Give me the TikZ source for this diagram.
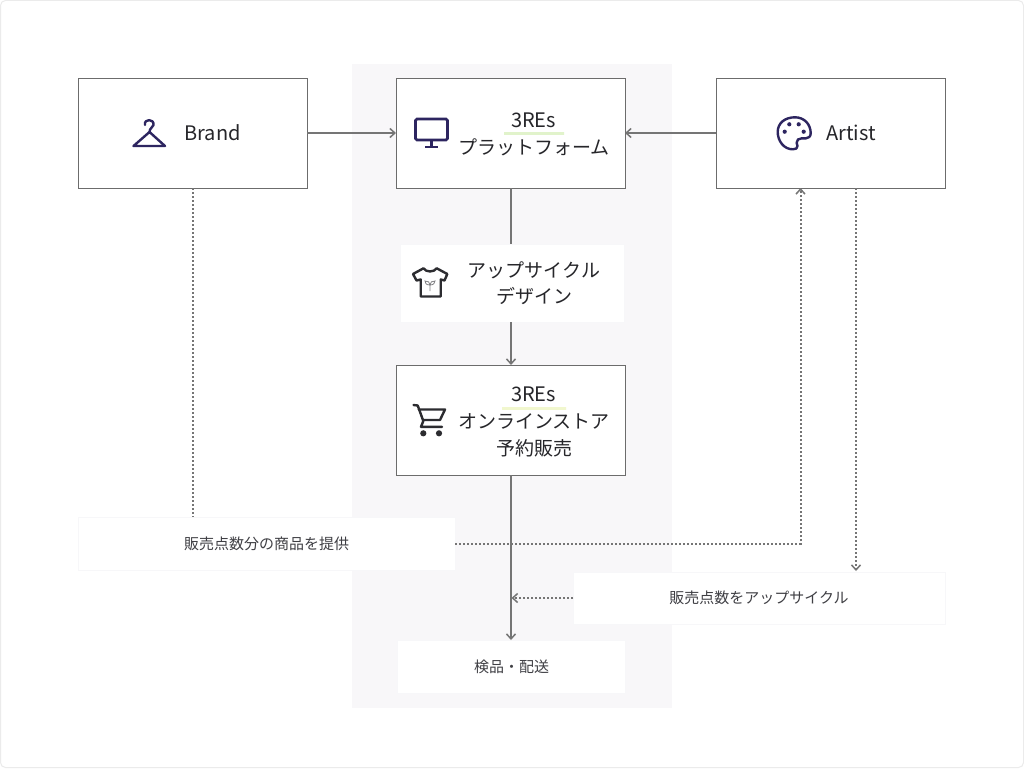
\documentclass[tikz,border=0pt]{standalone}
\usepackage{fontspec}
\setmainfont{Noto Sans CJK JP}
\usetikzlibrary{arrows.meta}
\definecolor{panelgray}{HTML}{F8F7F9}
\definecolor{boxline}{HTML}{6C6C6C}
\definecolor{connline}{HTML}{757575}
\definecolor{iconviolet}{HTML}{2D2560}
\definecolor{icondark}{HTML}{2C2C30}
\definecolor{textdark}{HTML}{26262A}
\definecolor{textsmall}{HTML}{3F3F44}
\definecolor{faintedge}{HTML}{F7F7F9}
\definecolor{limeA}{HTML}{B4E07C}
\definecolor{limeB}{HTML}{DCEB84}
\tikzset{
  x=1pt,y=-1pt,
  framebox/.style={draw=boxline,line width=1pt,fill=white,minimum width=229pt,minimum height=110pt,inner sep=0pt,outer sep=0pt},
  plainbox/.style={draw=faintedge,line width=.7pt,fill=white,inner sep=0pt,outer sep=0pt},
  big/.style={inner sep=0pt,text=textdark,font=\fontsize{19}{21}\selectfont},
  latin/.style={inner sep=0pt,text=textdark,font=\fontsize{20}{22}\selectfont},
  small/.style={inner sep=0pt,text=textsmall,font=\fontsize{15}{17}\selectfont},
  solidconn/.style={draw=connline,line width=2pt,-{Straight Barb[length=5pt,width=9pt,line width=1.5pt]}},
  plainconn/.style={draw=connline,line width=2pt},
  dotconn/.style={draw=connline,line width=2pt,dash pattern=on 2pt off 2pt},
  dotarrow/.style={dotconn,-{Straight Barb[length=5pt,width=9pt,line width=1.5pt]}},
  violeticon/.style={draw=iconviolet,line width=2.4pt,line join=round,line cap=round},
  darkicon/.style={draw=icondark,line width=2.4pt,line join=round,line cap=round}
}
\begin{document}
\begin{tikzpicture}
\useasboundingbox (0,0) rectangle (1024,768);
\fill[white] (0,0) rectangle (1024,768);
\draw[draw=black!8,line width=1pt,rounded corners=5pt] (.5,.5) rectangle (1023.5,767.5);
\fill[panelgray] (352,64) rectangle (672,708);

% boxes
\node[framebox] (brand) at (192.5,133) {};
\node[framebox] (platform) at (510.5,133) {};
\node[framebox] (artist) at (830.5,133) {};
\node[framebox] (store) at (510.5,420) {};
\node[plainbox,minimum width=224pt,minimum height=78pt] (design) at (512,283) {};
\node[plainbox,minimum width=377pt,minimum height=53pt] (supply) at (266.5,543.5) {};
\node[plainbox,minimum width=372pt,minimum height=52pt] (upcycle) at (759,598) {};
\node[plainbox,minimum width=228pt,minimum height=53pt] (deliver) at (511,666.5) {};

% free connector ends
\coordinate (artistIn) at (800.5,188);
\coordinate (artistOut) at (856,188);
\coordinate (upcycleIn) at (856,571);
\coordinate (corner) at (800.5,543.5);
\coordinate (returnEnd) at (511.5,598);
\coordinate (platformBottom) at (511,188);
\coordinate (designTop) at (511,244);
\coordinate (designBottom) at (511,322);
\coordinate (storeTop) at (511,365);
\coordinate (storeBottom) at (511,475);
\coordinate (deliverTop) at (511,640);

% connectors
\draw[solidconn] (brand.east) -- (platform.west);
\draw[solidconn] (artist.west) -- (platform.east);
\draw[plainconn] (platformBottom) -- (designTop);
\draw[solidconn] (designBottom) -- (storeTop);
\draw[dotconn] (brand.south) -- (supply.north -| brand.south);
\draw[dotarrow] (supply.east) -- (corner) -- (artistIn);
\draw[dotarrow] (artistOut) -- (upcycleIn);
\draw[solidconn] (storeBottom) -- (deliverTop);
\draw[dotarrow] (upcycle.west) -- (returnEnd);

% labels
\node[latin] (brandtext) at (212.5,133) {Brand};
\node[latin] (artisttext) at (851,133) {Artist};
\node[latin] (ptitle) at (533.5,120) {3REs};
\node[big] (psub) at (534,147) {プラットフォーム};
\node[big] (dline1) at (534,270) {アップサイクル};
\node[big] (dline2) at (534,296) {デザイン};
\node[latin] (stitle) at (533.5,394) {3REs};
\node[big] (sline1) at (534,421) {オンラインストア};
\node[big] (sline2) at (534,448) {予約販売};
\node[small] (supplytext) at (266.5,544) {販売点数分の商品を提供};
\node[small] (upcycletext) at (759,598) {販売点数をアップサイクル};
\node[small] (delivertext) at (511.5,667) {検品・配送};

% green rules
\shade[left color=limeA!40,middle color=limeA,right color=limeA!40] (504,132.5) rectangle (564,134);
\shade[left color=limeB!40,middle color=limeB,right color=limeB!40] (502,407.5) rectangle (566,409);

% hanger icon
\draw[violeticon] (145,125) .. controls (143.5,118.5) and (154.5,118.5) .. (153.5,125) .. controls (153,127.5) and (149.5,128) .. (149.5,132);
\draw[violeticon] (149.5,132) -- (165,146) -- (133.5,146) -- cycle;

% monitor icon
\draw[draw=iconviolet,line width=2.6pt,rounded corners=1.5pt] (415.5,119) rectangle (447.5,140);
\draw[draw=iconviolet,line width=2.8pt] (431.5,140) -- (431.5,146);
\draw[draw=iconviolet,line width=2.2pt] (425,147) -- (438,147);

% palette icon
\draw[violeticon] (793,149.3) .. controls (784,149.5) and (777.7,141) .. (777.7,132) .. controls (777.7,123) and (785,117.3) .. (795,117.3) .. controls (804,117.3) and (810.7,124) .. (810.7,133.3) .. controls (810.7,136.5) and (808.5,138.3) .. (806,138.3) .. controls (803,138.3) and (800,138) .. (798,139.5) .. controls (795.5,141.5) and (797,144) .. (797.5,146) .. controls (797.8,148.3) and (795.5,149.3) .. (793,149.3) -- cycle;
\fill[iconviolet] (789.3,124.3) circle (2.1) (798.7,124.3) circle (2.1) (803.7,131.7) circle (2.1) (784.7,131.7) circle (2.1);

% t-shirt icon
\draw[darkicon] (423.5,268.3) .. controls (426,272.5) and (434,272.5) .. (436.7,268.3) -- (447.3,274) -- (444.5,280.5) -- (440.7,279.5) -- (440.7,296.5) -- (420.7,296.5) -- (420.7,279.5) -- (416.5,280.5) -- (413,274) -- cycle;
\draw[draw=icondark!60,line width=.8pt] (430,291) -- (430,284) (430,285) .. controls (426,285) and (425,283) .. (425,281) .. controls (428,281) and (430,282) .. (430,285) (430,285) .. controls (433.5,285) and (435,283) .. (435,281) .. controls (432,281) and (430,282) .. (430,285);

% cart icon
\draw[darkicon] (413.5,405) -- (417.7,405.5) -- (423.3,421) -- (421,426.8) -- (442,426.8);
\draw[darkicon] (418.7,409.5) -- (445,409.5) -- (440,420) -- (423,420);
\fill[icondark] (423.3,433.3) circle (3.1) (439,433.3) circle (3.1);
\end{tikzpicture}
\end{document}
